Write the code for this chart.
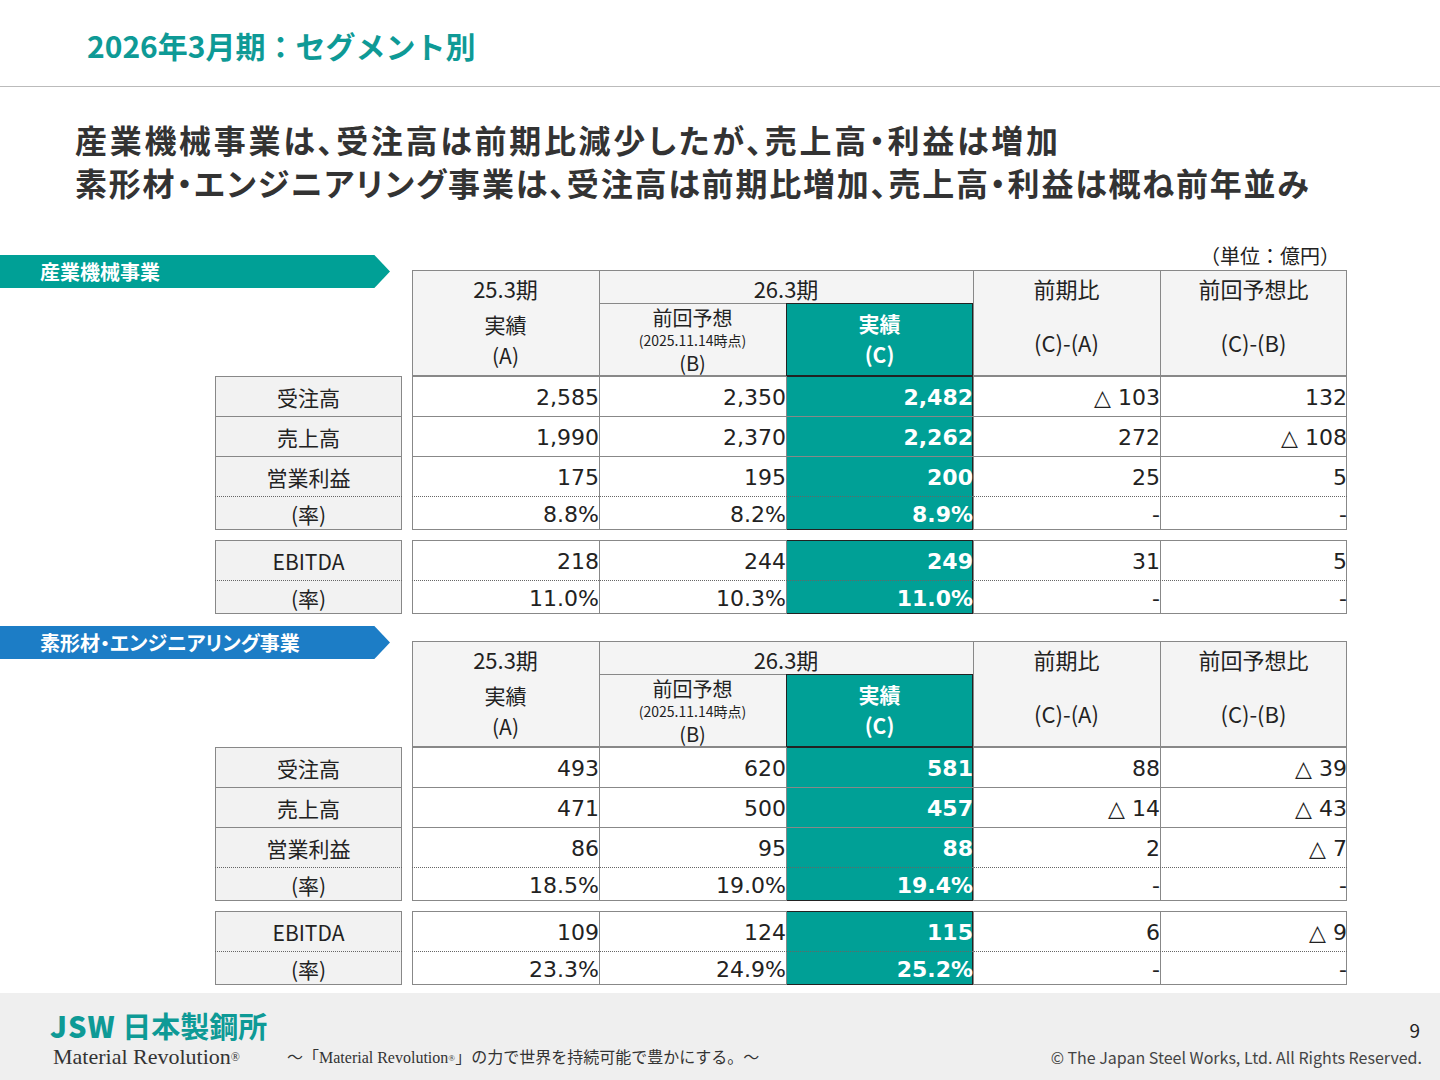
<!DOCTYPE html>
<html><head><meta charset="utf-8">
<script src="https://cdn.jsdelivr.net/npm/chart.js@4/dist/chart.umd.min.js"></script>
<style>
body{margin:0;width:1440px;height:1080px;position:relative;font-family:"Noto Sans CJK JP","Noto Sans",sans-serif;background:#fff;overflow:hidden}
.a{position:absolute;box-sizing:border-box}
.c{display:flex;align-items:center;justify-content:flex-end;font-size:22px;color:#222;line-height:1;font-family:"DejaVu Sans","Noto Sans CJK JP",sans-serif}
.p{font-feature-settings:"palt"}
</style></head><body>
<script>
const rowLabels=["受注高","売上高","営業利益","(率)","EBITDA","(率)"];
const seg1Name="産業機械事業";
const seg1A=["2,585","1,990","175","8.8%","218","11.0%"];
const seg1B=["2,350","2,370","195","8.2%","244","10.3%"];
const seg1C=["2,482","2,262","200","8.9%","249","11.0%"];
const seg1CA=["△ 103","272","25","-","31","-"];
const seg1CB=["132","△ 108","5","-","5","-"];
const seg2Name="素形材・エンジニアリング事業";
const seg2A=["493","471","86","18.5%","109","23.3%"];
const seg2B=["620","500","95","19.0%","124","24.9%"];
const seg2C=["581","457","88","19.4%","115","25.2%"];
const seg2CA=["88","△ 14","2","-","6","-"];
const seg2CB=["△ 39","△ 43","△ 7","-","△ 9","-"];

const T="#00A096";
function el(x,y,w,h,css,html){const d=document.createElement('div');d.className='a';Object.assign(d.style,{left:x+'px',top:y+'px',width:w+'px',height:h+'px'},css||{});if(html!==undefined)d.innerHTML=html;document.body.appendChild(d);return d;}
function txt(x,y,w,h,s,css){return el(x,y,w,h,Object.assign({display:'flex',alignItems:'center',justifyContent:'center',fontSize:'22px',color:'#222',lineHeight:'1',textAlign:'center'},css||{}),s);}

txt(87,24,600,42,"2026年3月期：セグメント別",{justifyContent:'flex-start',fontSize:'30px',fontWeight:'bold',color:'#0E9A96'});
el(0,86,1440,1,{background:'#bbb'});
txt(75,117,1350,44,"産業機械事業は、受注高は前期比減少したが、売上高・利益は増加",{justifyContent:'flex-start',fontSize:'32px',fontWeight:'bold',color:'#333',letterSpacing:'2.7px'}).classList.add('p');
txt(75,160,1350,44,"素形材・エンジニアリング事業は、受注高は前期比増加、売上高・利益は概ね前年並み",{justifyContent:'flex-start',fontSize:'32px',fontWeight:'bold',color:'#333',letterSpacing:'1.8px'}).classList.add('p');
txt(1180,242,160,28,"（単位：億円）",{justifyContent:'flex-end',fontSize:'20px'});

const colX=[412,599,786,973,1160,1347];
function table(y0,name,bannerColor,A,B,C,CA,CB){
  el(0,y0-15,390,33,{background:bannerColor,clipPath:'polygon(0 0,96% 0,100% 50%,96% 100%,0 100%)'});
  txt(40,y0-15,340,33,name,{justifyContent:'flex-start',color:'#fff',fontWeight:'bold',fontSize:'20px'}).classList.add('p');
  const hb='1px solid #888';
  el(412,y0,935,106,{background:'#f4f4f4',border:hb});
  for(let i=1;i<5;i++){ if(i==2) el(colX[i],y0+33,1,73,{background:'#888'}); else el(colX[i],y0,1,106,{background:'#888'}); }
  el(599,y0+33,374,1,{background:'#888'});
  txt(412,y0+6,187,24,"25.3期");txt(599,y0+6,374,24,"26.3期");
  txt(973,y0+6,187,24,"前期比");txt(1160,y0+6,187,24,"前回予想比");
  txt(412,y0+43,187,22,"実績",{fontSize:'21px'});txt(412,y0+74,187,22,"(A)",{fontSize:'21px'});
  txt(599,y0+38,187,20,"前回予想",{fontSize:'20px'});
  txt(599,y0+62,187,15,"(2025.11.14時点)",{fontSize:'14px'});
  txt(599,y0+83,187,20,"(B)",{fontSize:'20px'});
  el(786,y0+33,187,73,{background:T,border:'1.5px solid #222'});
  txt(786,y0+42,187,22,"実績",{color:'#fff',fontWeight:'bold',fontSize:'21px'});
  txt(786,y0+73,187,22,"(C)",{color:'#fff',fontWeight:'bold',fontSize:'21px'});
  txt(973,y0+60,187,24,"(C)-(A)");txt(1160,y0+60,187,24,"(C)-(B)");
  const rows=[[y0+106,40,0],[y0+146,40,1],[y0+186,40,2],[y0+226,34,3],[y0+270,40,4],[y0+310,34,5]];
  const cols=[A,B,C,CA,CB];
  [[y0+106,154],[y0+270,74]].forEach(([y,h])=>{
    el(215,y,187,h,{background:'#f2f2f2',border:hb});
    el(412,y,935,h,{border:hb});
    el(786,y,187,h,{background:T,border:'1.5px solid #222'});
    for(let i=1;i<5;i++) el(colX[i],y,1,h,{background:'#888'});
  });
  rows.forEach(([y,h,r],k)=>{
    if(k>0&&k!=4){const dotted=(r==3||r==5);
      el(215,y,187,0,{borderTop:dotted?'1px dotted #666':'1px solid #888'});
      el(412,y,935,0,{borderTop:dotted?'1px dotted #666':'1px solid #888'});}
    txt(215,y+5,187,h-8,rowLabels[r],{fontSize:'21px'});
    cols.forEach((arr,i)=>{
      const isC=i==2;
      const d=el(colX[i],y+5,187,h-6,{color:isC?'#fff':'#222',fontWeight:isC?'bold':'normal'},arr[r]);d.classList.add('c');
    });
  });
}
table(270,seg1Name,'#00A096',seg1A,seg1B,seg1C,seg1CA,seg1CB);
table(641,seg2Name,'#1C7DC6',seg2A,seg2B,seg2C,seg2CA,seg2CB);

el(0,993,1440,87,{background:'#efefef'});
txt(50,1008,300,34,"<span style='font-weight:900;letter-spacing:1px'>JSW</span>&nbsp;日本製鋼所",{justifyContent:'flex-start',fontSize:'29px',fontWeight:'bold',color:'#0E9A96'});
txt(53,1043,260,28,"Material Revolution<sup style='font-size:12px'>®</sup>",{justifyContent:'flex-start',fontFamily:'"Liberation Serif",serif',fontSize:'22px',color:'#333'});
txt(287,1046,520,24,"～「Material Revolution<sup style='font-size:9px'>®</sup>」の力で世界を持続可能で豊かにする。～",{justifyContent:'flex-start',fontFamily:'"Liberation Serif","Noto Sans CJK JP",serif',fontSize:'16px',color:'#333'});
txt(1380,1017,40,24,"9",{justifyContent:'flex-end',fontSize:'19px'});
txt(1000,1045,422,24,"© The Japan Steel Works, Ltd. All Rights Reserved.",{justifyContent:'flex-end',fontSize:'16px',color:'#444'});
</script>
</body></html>
